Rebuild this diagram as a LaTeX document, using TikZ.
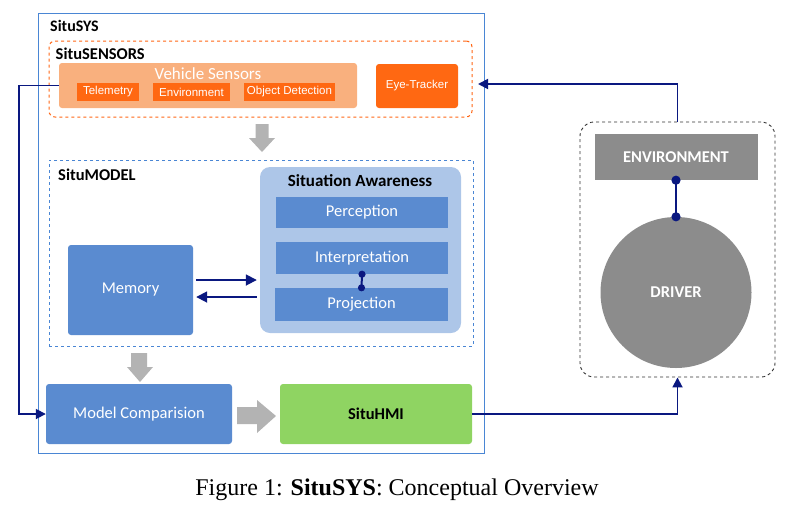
\documentclass[tikz,border=0pt]{standalone}
\usepackage{fontspec}
\setmainfont{Carlito}
\newfontfamily\arialfont{Liberation Sans}
\newfontfamily\capfont{Liberation Serif}
\usetikzlibrary{arrows.meta}

\definecolor{sysblue}{RGB}{74,134,212}
\definecolor{sensorange}{RGB}{255,102,20}
\definecolor{lightorange}{RGB}{249,176,126}
\definecolor{deeporange}{RGB}{255,104,18}
\definecolor{sablue}{RGB}{173,198,232}
\definecolor{midblue}{RGB}{90,139,208}
\definecolor{hmigreen}{RGB}{143,212,98}
\definecolor{drvgray}{RGB}{140,140,140}
\definecolor{bigarrow}{RGB}{179,179,179}
\definecolor{navyline}{RGB}{10,24,128}

\begin{document}
\begin{tikzpicture}[x=1pt,y=-1pt,
    lbl/.style={anchor=north west,inner sep=0pt,font=\fontsize{16.5}{18}\selectfont\bfseries},
    block/.style={inner sep=0pt,text=white,font=\fontsize{16.5}{19}\selectfont},
    tag/.style={inner sep=0pt,fill=deeporange,text=white,minimum height=18,font=\arialfont\fontsize{11.5}{13}\selectfont},
    navyarrow/.style={draw=navyline,line width=1.8pt,-{Triangle[length=10pt,width=10pt]}},
    navylink/.style={draw=navyline,line width=2.6pt,shorten <=-4.5pt,shorten >=-4.5pt,{Circle[length=9pt]}-{Circle[length=9pt]}}]
  \useasboundingbox (0,0) rectangle (800,509);

  % SituSYS frame
  \node[draw=sysblue,line width=1pt,minimum width=446,minimum height=440] (sys) at (261,233) {};
  \node[lbl,font=\fontsize{16}{18}\selectfont\bfseries] (syslbl) at (50,20) {SituSYS};

  % SituSENSORS
  \node[draw=sensorange,dashed,line width=1pt,rounded corners=6pt,minimum width=423,minimum height=76] (sens) at (260.5,79) {};
  \node[lbl] (senslbl) at (55.5,48) {SituSENSORS};
  \node[fill=lightorange,rounded corners=3pt,minimum width=298,minimum height=45] (veh) at (208,85.5) {};
  \node[block,font=\fontsize{17}{19}\selectfont] (vehlbl) at (208,73.5) {Vehicle Sensors};
  \node[tag,minimum width=62] (tele) at (108,92) {Telemetry};
  \node[tag,minimum width=77] (envs) at (191.5,92) {Environment};
  \node[tag,minimum width=91] (objd) at (289.5,92) {Object Detection};
  \node[tag,rounded corners=3pt,minimum width=82,minimum height=44] (eye) at (417,86) {Eye-Tracker};

  % SituMODEL
  \node[draw=sysblue,dashed,line width=0.8pt,minimum width=424,minimum height=186] (model) at (261,253) {};
  \node[lbl] (modellbl) at (58,169) {SituMODEL};
  \node[fill=sablue,rounded corners=10pt,minimum width=201,minimum height=166] (sa) at (360.5,250) {};
  \node[lbl,anchor=north,font=\fontsize{17}{19}\selectfont\bfseries] (salbl) at (360,174) {Situation Awareness};
  \node[block,fill=midblue,minimum width=172,minimum height=31] (perc) at (362,212.5) {Perception};
  \node[block,fill=midblue,minimum width=172,minimum height=32] (intp) at (362,258) {Interpretation};
  \node[block,fill=midblue,minimum width=173,minimum height=33] (proj) at (361.5,304.5) {Projection};
  \node[block,fill=midblue,rounded corners=3pt,minimum width=125,minimum height=90] (mem) at (130.5,290) {Memory};

  % lower row
  \node[block,fill=midblue,rounded corners=3pt,minimum width=186,minimum height=60] (mc) at (139,414) {Model Comparision};
  \node[block,fill=hmigreen,rounded corners=3pt,text=black,font=\fontsize{16.5}{19}\selectfont\bfseries,minimum width=192,minimum height=60] (hmi) at (376,414) {SituHMI};

  % driver side
  \node[draw=black!80,dashed,line width=0.9pt,rounded corners=14pt,minimum width=195,minimum height=255] (dbox) at (677.5,249.5) {};
  \node[block,fill=drvgray,font=\fontsize{16.5}{19}\selectfont\bfseries,minimum width=163,minimum height=46] (env) at (676,157) {ENVIRONMENT};
  \node[block,circle,fill=drvgray,font=\fontsize{16.5}{19}\selectfont\bfseries,minimum size=151] (drv) at (676,292.5) {DRIVER};

  % grey block arrows
  \fill[bigarrow] (255.5,124) -- (268.5,124) -- (268.5,138) -- (275,138) -- (262,152) -- (249,138) -- (255.5,138) -- cycle;
  \fill[bigarrow] (131,353) -- (147,353) -- (147,367) -- (153,367) -- (140,382) -- (127,367) -- (131,367) -- cycle;
  \fill[bigarrow] (237,407) -- (257,407) -- (257,400) -- (276,416) -- (257,433) -- (257,424) -- (237,424) -- cycle;

  % connectors
  \coordinate (eyein) at (478,84);
  \draw[navyarrow] (veh.west) -- ++(-40,0) |- (mc.west);
  \draw[navyarrow] (dbox.north) |- (eyein);
  \draw[navyarrow] (hmi.east) -| (dbox.south);
  \draw[navyarrow,-{Triangle[length=11pt,width=11pt]},shorten <=3pt,shorten >=3pt] ([yshift=10pt]mem.east) -- ([yshift=10pt]mem.east -| sa.west);
  \draw[navyarrow,-{Triangle[length=11pt,width=11pt]},shorten <=3pt,shorten >=3pt] ([yshift=-7pt]mem.east -| sa.west) -- ([yshift=-7pt]mem.east);
  \draw[navylink] (env.south) -- (drv.north);
  \draw[navylink,line width=2pt,shorten <=-3.5pt,shorten >=-3.5pt,{Circle[length=7pt]}-{Circle[length=7pt]}] (intp.south) -- (proj.north);

  % caption
  \node[inner sep=0pt,font=\capfont\fontsize{24}{28}\selectfont] (cap) at (397,490) {Figure 1: \textbf{SituSYS}: Conceptual Overview};
\end{tikzpicture}
\end{document}
